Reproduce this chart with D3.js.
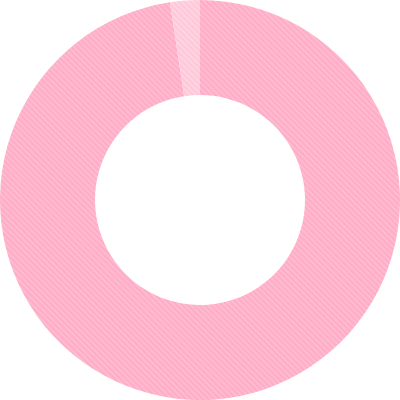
<!DOCTYPE html>
<html><head><meta charset="utf-8">
<script src="https://cdn.jsdelivr.net/npm/d3@7"></script>
<style>html,body{margin:0;padding:0;background:#fff;}svg{display:block;}</style>
</head><body>
<svg id="chart" width="400" height="400"></svg>
<script>
const categories = ["A", "B"];
const values = [97.6, 2.4];
const baseColors = ["#ffadc7", "#ffc8da"];
const stripeColors = ["#ffc0d4", "#ffd9e5"];

const svg = d3.select("#chart");
const W = 400, H = 400;
const outerR = 200, innerR = 105;
const defs = svg.append("defs");
categories.forEach((c, i) => {
  const p = defs.append("pattern").attr("id", "hatch" + i)
    .attr("patternUnits", "userSpaceOnUse").attr("width", 4).attr("height", 4)
    .attr("patternTransform", "rotate(45)");
  p.append("rect").attr("width", 4).attr("height", 4).attr("fill", baseColors[i]);
  p.append("rect").attr("width", 4).attr("height", 1.4).attr("fill", stripeColors[i]);
});
const pie = d3.pie().sort(null).value(d => d);
const arc = d3.arc().innerRadius(innerR).outerRadius(outerR);
const g = svg.append("g").attr("transform", `translate(${W/2},${H/2})`);
g.selectAll("path").data(pie(values)).join("path")
  .attr("d", arc)
  .attr("fill", (d, i) => `url(#hatch${i})`);
</script>
</body></html>
